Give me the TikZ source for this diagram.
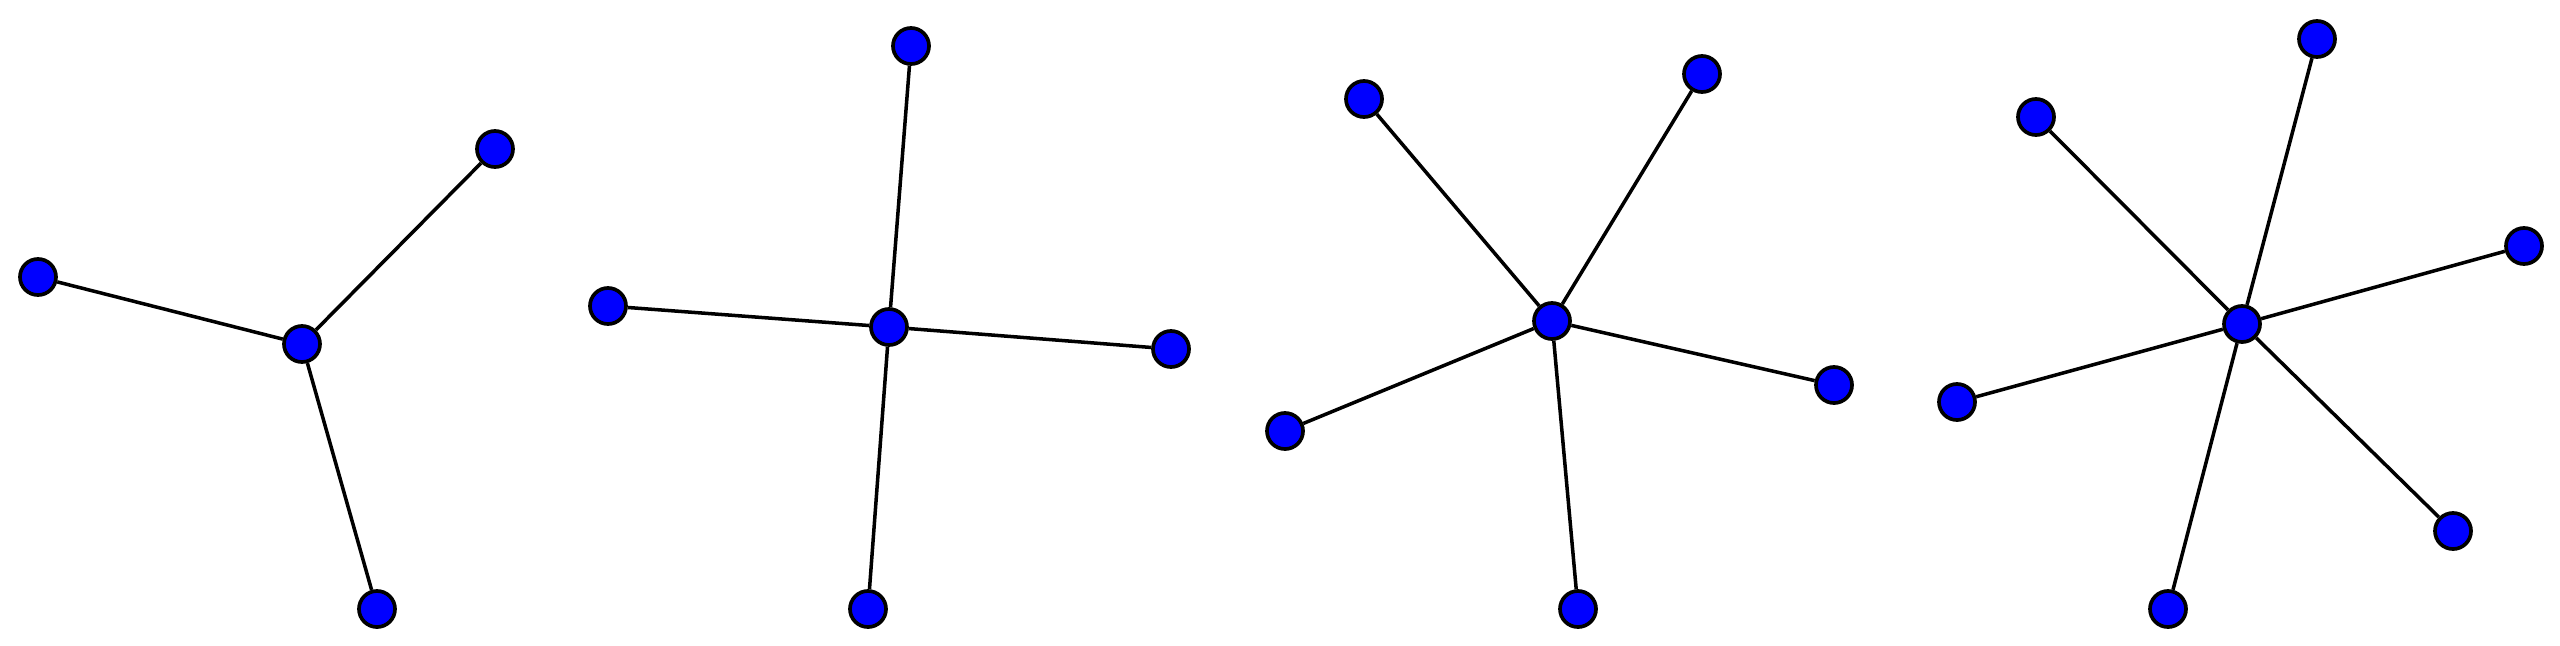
\documentclass[tikz,border=0pt]{standalone}
\begin{document}
\begin{tikzpicture}[x=0.01cm,y=-0.01cm,
  vtx/.style={circle,draw=black,fill=blue,line width=1.05pt,minimum size=0.36cm,inner sep=0pt},
  edge/.style={draw=black,line width=1pt}]
\useasboundingbox (0,0) rectangle (2560,645);
% graph 1
\node[vtx] (a0) at (302,344) {};
\node[vtx] (a1) at (38,277) {};
\node[vtx] (a2) at (495,149) {};
\node[vtx] (a3) at (377,609) {};
% graph 2
\node[vtx] (b0) at (889,327) {};
\node[vtx] (b1) at (911,46) {};
\node[vtx] (b2) at (608,306) {};
\node[vtx] (b3) at (1171,349) {};
\node[vtx] (b4) at (868,609) {};
% graph 3
\node[vtx] (c0) at (1552,321) {};
\node[vtx] (c1) at (1364,99) {};
\node[vtx] (c2) at (1702,74) {};
\node[vtx] (c3) at (1834,385) {};
\node[vtx] (c4) at (1285,431) {};
\node[vtx] (c5) at (1578,609) {};
% graph 4
\node[vtx] (d0) at (2242,324) {};
\node[vtx] (d1) at (2317,39) {};
\node[vtx] (d2) at (2036,117) {};
\node[vtx] (d3) at (2524,246) {};
\node[vtx] (d4) at (1957,402) {};
\node[vtx] (d5) at (2453,531) {};
\node[vtx] (d6) at (2168,609) {};
% edges
\foreach \t in {a1,a2,a3} \draw[edge] (a0) -- (\t);
\foreach \t in {b1,b2,b3,b4} \draw[edge] (b0) -- (\t);
\foreach \t in {c1,c2,c3,c4,c5} \draw[edge] (c0) -- (\t);
\foreach \t in {d1,d2,d3,d4,d5,d6} \draw[edge] (d0) -- (\t);
\end{tikzpicture}
\end{document}
